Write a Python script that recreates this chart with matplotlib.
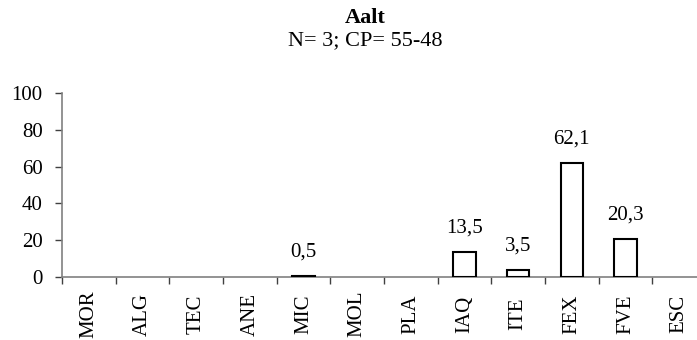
import matplotlib
matplotlib.use("Agg")
import matplotlib.pyplot as plt
from matplotlib.ticker import FixedLocator

categories = ["MOR", "ALG", "TEC", "ANE", "MIC", "MOL", "PLA", "IAQ", "ITE", "FEX", "FVE", "ESC"]
values = [0, 0, 0, 0, 0.5, 0, 0, 13.5, 3.5, 62.1, 20.3, 0]
yticks = [0, 20, 40, 60, 80, 100]

plt.rcParams['font.family'] = ['Liberation Serif', 'DejaVu Serif']
FS = 15

fig = plt.figure(figsize=(6.97, 3.40), dpi=100)
W, H = 697, 340
ax = fig.add_axes([62 / W, (H - 276.7) / H, (706 - 62) / W, (276.7 - 93.3) / H])

x = list(range(len(categories)))
bx = [xi for xi, v in zip(x, values) if v > 0]
bv = [v for v in values if v > 0]
ax.bar(bx, bv, width=0.41, facecolor="white", edgecolor="black", linewidth=1.5, zorder=3)

for xi, v in zip(bx, bv):
    ax.annotate(f"{v:.1f}".replace(".", ","), (xi, v), xytext=(0, 14),
                textcoords="offset points", ha="center", va="baseline", fontsize=FS)

ax.set_xlim(-0.5, len(categories) - 0.5)
ax.set_ylim(0, 100)
ax.set_yticks(yticks)
ax.set_yticklabels([str(t) for t in yticks], fontsize=FS)
ax.set_xticks(x)
ax.set_xticklabels(categories, rotation=90, fontsize=FS, va="center")
ax.xaxis.set_minor_locator(FixedLocator([i - 0.5 for i in range(len(categories) + 1)]))
ax.tick_params(axis="x", which="major", length=0, pad=27)
ax.tick_params(axis="x", which="minor", length=5, width=1, color="#404040")
ax.tick_params(axis="y", length=5, width=1, color="#404040", pad=9)

for s in ["top", "right"]:
    ax.spines[s].set_visible(False)
for s in ["left", "bottom"]:
    ax.spines[s].set_color("#808080")
    ax.spines[s].set_linewidth(1.2)

fig.text(365 / W, 1 - 18 / H, "Aalt", ha="center", va="center", fontsize=FS + 1, fontweight="bold")
fig.text(365 / W, 1 - 41 / H, "N= 3; CP= 55-48", ha="center", va="center", fontsize=FS + 1)

fig.savefig("out.png", dpi=100)
